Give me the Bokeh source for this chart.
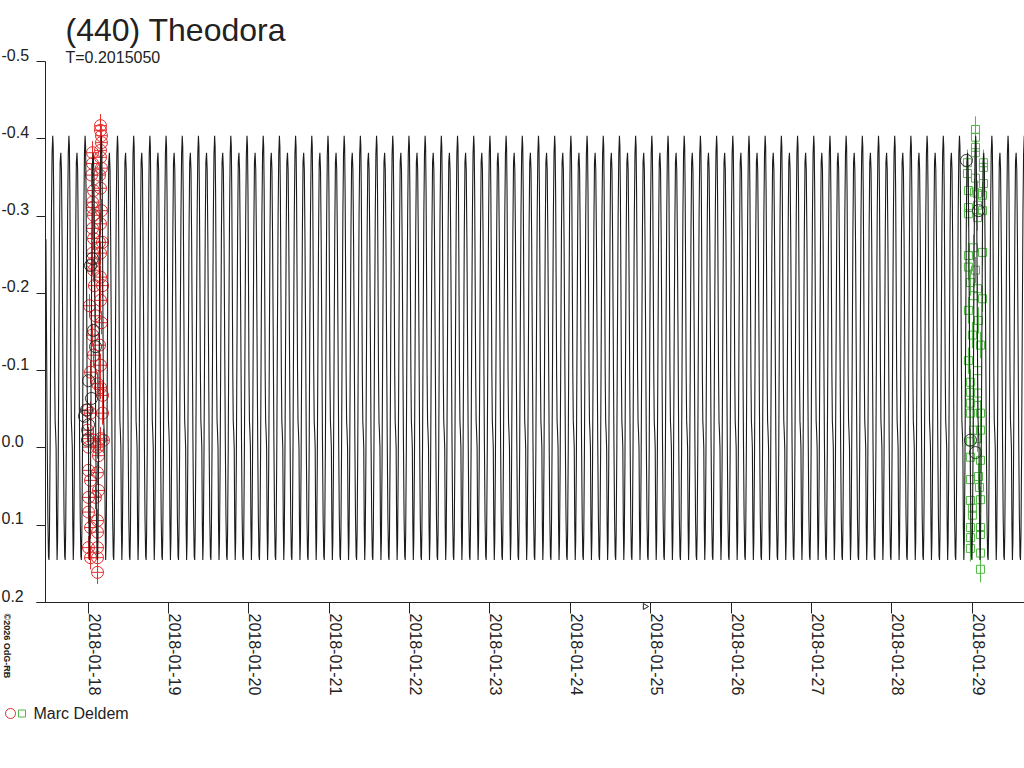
import math
from bokeh.plotting import figure
from bokeh.models import (Range1d, LinearAxis, FixedTicker, Label,
                          CustomLabelingPolicy)
from bokeh.embed import file_html
from bokeh.resources import INLINE

# ---------------- data ----------------
TITLE = "(440) Theodora"
SUBTITLE = "T=0.2015050"
OBSERVER = "Marc Deldem"
COPYRIGHT = "©2026 OdG-RB"

PERIOD = 0.2015050          # days
EPOCH = 24.611              # day of Jan 2018 of the brighter maximum
MARK_DAY = 24.93            # small marker under the time axis

X_START, X_END = 17.4686, 29.652   # days of January 2018 shown
Y_TICKS = [-0.5, -0.4, -0.3, -0.2, -0.1, 0.0, 0.1, 0.2]
Y_TICK_LABELS = ["-0.5", "-0.4", "-0.3", "-0.2", "-0.1", "0.0", "0.1", "0.2"]
X_TICK_DAYS = [18, 19, 20, 21, 22, 23, 24, 25, 26, 27, 28, 29]
X_TICK_LABELS = ["2018-01-18", "2018-01-19", "2018-01-20", "2018-01-21",
                 "2018-01-22", "2018-01-23", "2018-01-24", "2018-01-25",
                 "2018-01-26", "2018-01-27", "2018-01-28", "2018-01-29"]

# one rotation of the fitted light curve (phase, magnitude)
PHASE = [0.00, 0.03, 0.06, 0.09, 0.12, 0.15, 0.18, 0.21, 0.24, 0.27,
         0.30, 0.34, 0.38, 0.42, 0.46, 0.50, 0.54, 0.58, 0.62, 0.66,
         0.70, 0.74, 0.77, 0.80, 0.84, 0.88, 0.92, 0.96, 1.00]
MODEL_MAG = [-0.404, -0.39, -0.33, -0.22, -0.10, -0.035, -0.02, 0.00, 0.10, 0.145,
             0.12, 0.02, -0.13, -0.28, -0.37, -0.382, -0.36, -0.27, -0.14, -0.01,
             0.09, 0.14, 0.145, 0.11, 0.00, -0.16, -0.30, -0.38, -0.404]

# session 1 (2018-01-17/18)
red_day = [18.153, 18.153, 18.165, 18.165, 18.153, 18.054, 18.153, 18.054, 18.165, 18.141,
           18.041, 18.153, 18.066, 18.054, 18.054, 18.165, 18.066, 18.153, 18.054, 18.066,
           18.141, 18.178, 18.054, 18.153, 18.054, 18.066, 18.153, 18.078, 18.178, 18.153,
           18.016, 18.091, 18.165, 18.054, 18.141, 18.066, 18.153, 18.029, 18.116, 18.153,
           18.178, 17.991, 18.029, 18.178, 17.991, 18.004, 18.066, 18.153, 18.190, 18.116,
           18.004, 18.128, 18.004, 18.116, 18.029, 18.128, 18.004, 18.091, 18.004, 18.116,
           18.029, 18.116, 18.004, 18.116, 18.029, 18.116, 18.116]
red_mag = [-0.417, -0.411, -0.404, -0.395, -0.385, -0.382, -0.376, -0.368, -0.362, -0.353,
           -0.353, -0.336, -0.333, -0.318, -0.311, -0.307, -0.301, -0.290, -0.284, -0.271,
           -0.266, -0.266, -0.252, -0.252, -0.239, -0.230, -0.221, -0.210, -0.210, -0.191,
           -0.184, -0.171, -0.162, -0.146, -0.133, -0.120, -0.107, -0.098, -0.083, -0.078,
           -0.068, -0.049, -0.045, -0.045, -0.023, -0.012, -0.010, -0.012, -0.010, -0.001,
           -0.001, 0.010, 0.029, 0.032, 0.042, 0.055, 0.064, 0.064, 0.083, 0.094,
           0.103, 0.109, 0.129, 0.129, 0.142, 0.142, 0.161]

# points drawn in dark grey
dark_day = [17.979, 17.954, 18.004, 17.991, 18.054, 18.029, 18.066, 18.091, 18.004, 18.041,
            28.930, 29.079, 28.980, 29.042]
dark_mag = [-0.049, -0.041, -0.030, -0.010, -0.245, -0.236, -0.152, -0.131, -0.087, -0.064,
            -0.372, -0.307, -0.010, 0.006]

# session 2 (2018-01-29)
green_day = [29.042, 29.042, 29.042, 29.042, 28.942, 29.141, 29.141, 28.942, 29.042, 29.141,
             28.954, 29.029, 29.067, 29.129, 28.954, 29.067, 29.129, 28.954, 29.067, 29.017,
             28.954, 29.129, 28.954, 29.042, 28.979, 29.067, 29.017, 29.129, 28.954, 29.079,
             29.004, 29.104, 28.954, 29.067, 28.979, 28.979, 29.067, 28.979, 29.067, 28.979,
             29.104, 29.017, 29.104, 28.979, 29.067, 28.979, 29.104, 28.979, 29.079, 29.091,
             28.979, 29.104, 29.004, 29.004, 28.979, 29.104, 28.979, 29.104, 28.979, 29.104,
             29.104]
green_mag = [-0.412, -0.402, -0.389, -0.382, -0.369, -0.369, -0.363, -0.355, -0.349, -0.342,
             -0.333, -0.331, -0.329, -0.327, -0.311, -0.314, -0.307, -0.303, -0.298, -0.259,
             -0.249, -0.253, -0.234, -0.230, -0.214, -0.206, -0.197, -0.193, -0.178, -0.165,
             -0.146, -0.133, -0.113, -0.100, -0.085, -0.072, -0.071, -0.058, -0.055, -0.045,
             -0.045, -0.023, -0.023, -0.008, -0.012, 0.012, 0.016, 0.041, 0.037, 0.051,
             0.068, 0.067, 0.078, 0.087, 0.103, 0.103, 0.116, 0.112, 0.130, 0.136,
             0.157]
RED_ERR = 0.015
GREEN_ERR = 0.017

# ---------------- layout / styles ----------------
W, H = 1024, 740
FRAME_L, FRAME_R, FRAME_T, FRAME_B = 45, 1024, 61, 602   # pixel box of the data area
FONT = "Liberation Sans"
INK = "#222222"
RED = "#e62e2e"
GREEN = "#4fb843"
CURVE = "#1c1c1c"

KX = (X_END - X_START) / (FRAME_R - FRAME_L)              # days per pixel
KY = (Y_TICKS[-1] - Y_TICKS[0]) / (FRAME_B - FRAME_T)     # mag per pixel


def xd(px):
    return X_START + (px - FRAME_L) * KX


def yd(py):
    return Y_TICKS[0] + (py - FRAME_T) * KY


# model curve: the one-rotation template repeated with the period
model_t, model_m = [], []
n_first = math.floor((X_START - EPOCH) / PERIOD) - 1
n_last = math.ceil((X_END - EPOCH) / PERIOD) + 1
for n in range(n_first, n_last + 1):
    for ph, m in zip(PHASE[:-1], MODEL_MAG[:-1]):
        t = EPOCH + (n + ph) * PERIOD
        if X_START <= t <= X_END + PERIOD:
            model_t.append(t)
            model_m.append(m)

p = figure(width=W, height=H,
           x_range=Range1d(xd(0), xd(W)), y_range=Range1d(yd(H), yd(0)),
           x_axis_type=None, y_axis_type=None,
           toolbar_location=None, output_backend="svg", min_border=0)
p.outline_line_color = None
p.background_fill_color = "white"
p.border_fill_color = "white"

no_labels = CustomLabelingPolicy(code="return []")

# y axis: line + ticks at the frame edge
p.add_layout(LinearAxis(fixed_location=X_START, bounds=(Y_TICKS[0], Y_TICKS[-1]),
                        ticker=FixedTicker(ticks=Y_TICKS, minor_ticks=[]),
                        major_label_policy=no_labels, major_label_text_font_size="0px",
                        major_tick_out=9, major_tick_in=0,
                        minor_tick_out=0, minor_tick_in=0,
                        axis_line_color=INK, major_tick_line_color=INK), "left")
# y labels: left-aligned at the page edge, sitting just above their tick
y_label_ticks = [t - 7 * KY for t in Y_TICKS]
p.add_layout(LinearAxis(fixed_location=xd(1),
                        ticker=FixedTicker(ticks=y_label_ticks, minor_ticks=[]),
                        major_label_overrides=dict(zip(y_label_ticks, Y_TICK_LABELS)),
                        major_tick_out=0, major_tick_in=0,
                        minor_tick_out=0, minor_tick_in=0, major_label_standoff=0,
                        major_label_text_font=FONT, major_label_text_font_size="16px",
                        major_label_text_color=INK,
                        axis_line_color=None, major_tick_line_color=None,
                        minor_tick_line_color=None), "right")

# x axis: line + ticks
p.add_layout(LinearAxis(fixed_location=Y_TICKS[-1], bounds=(xd(36), X_END),
                        ticker=FixedTicker(ticks=X_TICK_DAYS, minor_ticks=[]),
                        major_label_policy=no_labels, major_label_text_font_size="0px",
                        major_tick_out=11, major_tick_in=0,
                        minor_tick_out=0, minor_tick_in=0,
                        axis_line_color=INK, major_tick_line_color=INK), "below")
# x labels: vertical, just right of their tick
x_label_ticks = [d + 6.5 * KX for d in X_TICK_DAYS]
p.add_layout(LinearAxis(fixed_location=Y_TICKS[-1],
                        ticker=FixedTicker(ticks=x_label_ticks, minor_ticks=[]),
                        major_label_overrides=dict(zip(x_label_ticks, X_TICK_LABELS)),
                        major_label_orientation=-math.pi / 2,
                        major_tick_out=0, major_tick_in=0,
                        minor_tick_out=0, minor_tick_in=0, major_label_standoff=11,
                        major_label_text_font=FONT, major_label_text_font_size="16px",
                        major_label_text_color=INK,
                        axis_line_color=None, major_tick_line_color=None,
                        minor_tick_line_color=None), "below")

# error bars
p.segment(x0=red_day, y0=[m - RED_ERR for m in red_mag],
          x1=red_day, y1=[m + RED_ERR for m in red_mag],
          line_color=RED, line_width=1)
p.segment(x0=green_day, y0=[m - GREEN_ERR for m in green_mag],
          x1=green_day, y1=[m + GREEN_ERR for m in green_mag],
          line_color=GREEN, line_width=1)

p.scatter(red_day, red_mag, marker="circle_cross", size=12,
          line_color=RED, fill_color=None, line_width=1)
p.scatter(green_day, green_mag, marker="square", size=8,
          line_color=GREEN, fill_color=None, line_width=1)
p.scatter(dark_day, dark_mag, marker="circle", size=12,
          line_color="#333333", fill_color=None, line_width=1)

p.line(model_t, model_m, line_color=CURVE, line_width=1.1)

# small marker under the time axis
p.scatter([MARK_DAY], [yd(606)], marker="triangle", angle=-math.pi / 2, size=6,
          line_color=INK, fill_color=None, line_width=1)

# titles
p.add_layout(Label(x=xd(65), y=yd(29), text=TITLE, text_font=FONT,
                   text_font_size="32px", text_color=INK,
                   text_baseline="alphabetic", text_align="left"))
p.add_layout(Label(x=xd(65), y=yd(57), text=SUBTITLE, text_font=FONT,
                   text_font_size="16px", text_color=INK,
                   text_baseline="alphabetic", text_align="left"))
p.add_layout(Label(x=xd(1), y=yd(613), text=COPYRIGHT, angle=-math.pi / 2,
                   text_font=FONT, text_font_size="9px", text_font_style="bold",
                   text_color=INK, text_baseline="bottom", text_align="left"))

# legend
p.scatter([xd(10)], [yd(713)], marker="circle", size=10, line_color=RED, fill_color=None)
p.scatter([xd(21.5)], [yd(713)], marker="square", size=7, line_color=GREEN, fill_color=None)
p.add_layout(Label(x=xd(33), y=yd(713), text=OBSERVER, text_font=FONT,
                   text_font_size="16px", text_color=INK,
                   text_baseline="middle", text_align="left"))

open("out.html", "w").write(file_html(p, INLINE))
